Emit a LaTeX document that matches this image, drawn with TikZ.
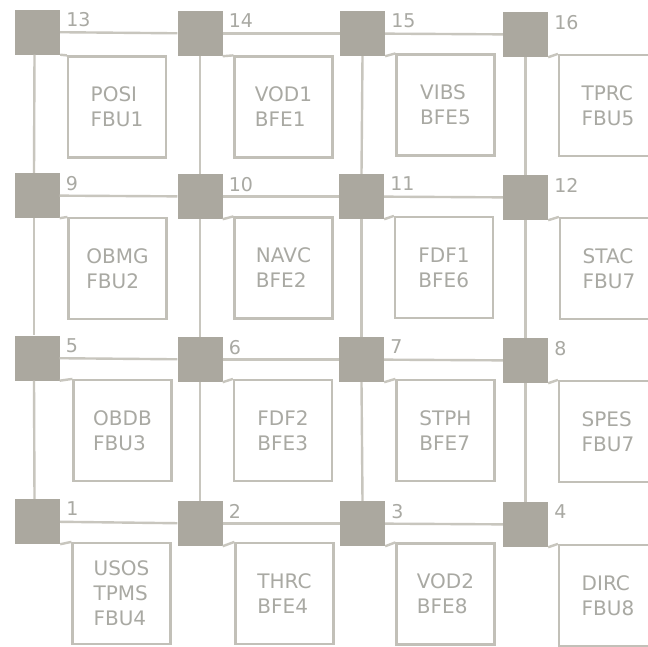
\documentclass[tikz,border=0pt]{standalone}
\usepackage{fontspec}
\setmainfont{DejaVu Sans}
\definecolor{routerfill}{HTML}{ABA89F}
\definecolor{linecol}{HTML}{C8C6BE}
\definecolor{boxcol}{HTML}{C2C0B8}
\definecolor{textcol}{HTML}{A9A9A3}
\tikzset{
  router/.style={fill=routerfill, draw=none, minimum size=45pt, inner sep=0pt},
  rlabel/.style={anchor=north west, inner sep=0pt, text=textcol, font=\fontsize{19}{22}\selectfont},
  unitbox/.style={draw=boxcol, line width=2.2pt, fill=white, minimum width=98pt, minimum height=101pt, inner sep=0pt, align=left, text=textcol, font=\fontsize{20}{25}\selectfont},
  link/.style={draw=linecol, line width=2.4pt},
}
\begin{document}
\begin{tikzpicture}[x=1pt,y=-1pt]
\clip (0,0) rectangle (648,646);
\fill[white] (0,0) rectangle (648,646);
% routers
\node[router] (r13) at (37.5,32) {};
\node[router] (r14) at (200,33.5) {};
\node[router] (r15) at (362.5,33.5) {};
\node[router] (r16) at (525.5,34.5) {};
\node[router] (r9) at (37,195.5) {};
\node[router] (r10) at (200,196.5) {};
\node[router] (r11) at (361.5,196.5) {};
\node[router] (r12) at (525.5,197.5) {};
\node[router] (r5) at (37,358) {};
\node[router] (r6) at (200,359.5) {};
\node[router] (r7) at (361.5,359.5) {};
\node[router] (r8) at (525.5,360.5) {};
\node[router] (r1) at (37.5,521.5) {};
\node[router] (r2) at (200,523.5) {};
\node[router] (r3) at (362.5,523.5) {};
\node[router] (r4) at (525.5,524.5) {};
% router labels
\foreach \n in {1,...,16}{
  \node[rlabel] (l\n) at ([shift={(6,3)}]r\n.north east) {\n};
}
% boxes
\node[unitbox] (b13) at (117,107) {POSI\\FBU1};
\node[unitbox] (b14) at (283.5,107) {VOD1\\BFE1};
\node[unitbox] (b15) at (445.5,105) {VIBS\\BFE5};
\node[unitbox] (b16) at (608,105.5) {TPRC\\FBU5};
\node[unitbox] (b9) at (117.5,268.5) {OBMG\\FBU2};
\node[unitbox] (b10) at (283.5,268) {NAVC\\BFE2};
\node[unitbox] (b11) at (444,267.5) {FDF1\\BFE6};
\node[unitbox] (b12) at (609,268.5) {STAC\\FBU7};
\node[unitbox] (b5) at (122.5,430.5) {OBDB\\FBU3};
\node[unitbox] (b6) at (283,430.5) {FDF2\\BFE3};
\node[unitbox] (b7) at (445.5,430.5) {STPH\\BFE7};
\node[unitbox] (b8) at (608,431.5) {SPES\\FBU7};
\node[unitbox] (b1) at (121.5,593.5) {USOS\\TPMS\\FBU4};
\node[unitbox] (b2) at (284.5,593.5) {THRC\\BFE4};
\node[unitbox] (b3) at (445.5,594) {VOD2\\BFE8};
\node[unitbox] (b4) at (608,595.5) {DIRC\\FBU8};
% horizontal links
\foreach \a/\b in {13/14,14/15,15/16,9/10,10/11,11/12,5/6,6/7,7/8,1/2,2/3,3/4}{
  \draw[link] (r\a) -- (r\b);
}
% vertical links
\foreach \a/\b in {13/9,9/5,5/1}{
  \draw[link] ([xshift=-3pt]r\a.south) -- ([xshift=-3pt]r\b.north);
}
\foreach \a/\b in {14/10,10/6,6/2,15/11,11/7,7/3,16/12,12/8,8/4}{
  \draw[link] (r\a.south) -- (r\b.north);
}
% router-to-box links
\foreach \n in {1,...,16}{
  \draw[link] (r\n.south east) -- (b\n.north west);
}
\end{tikzpicture}
\end{document}
